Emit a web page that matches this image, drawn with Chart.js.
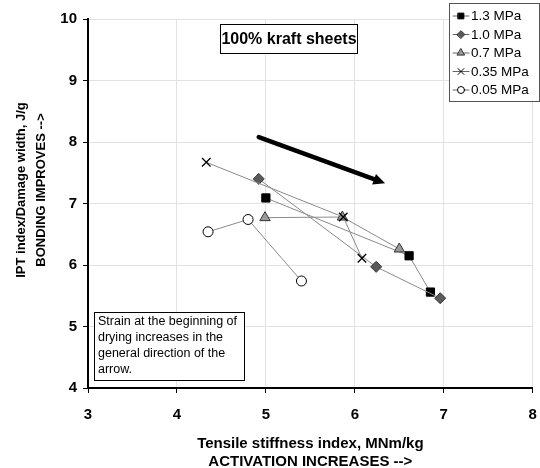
<!DOCTYPE html>
<html>
<head>
<meta charset="utf-8">
<script src="https://cdn.jsdelivr.net/npm/chart.js@4/dist/chart.umd.min.js"></script>
<style>
  html, body { margin: 0; padding: 0; background: #fff; }
  #wrap { width: 540px; height: 468px; }
</style>
</head>
<body>
<div id="wrap"><canvas id="chart"></canvas></div>
<script>
// Données (x = indice de rigidité, y = IPT / largeur d'endommagement)
const seriesLabels = ['1.3 MPa', '1.0 MPa', '0.7 MPa', '0.35 MPa', '0.05 MPa'];
const x13 = [5.00, 6.61, 6.85];
const y13 = [7.09, 6.15, 5.56];
const x10 = [4.92, 6.24, 6.96];
const y10 = [7.40, 5.97, 5.46];
const x07 = [4.99, 5.86, 6.50];
const y07 = [6.77, 6.78, 6.26];
const x035 = [4.33, 5.87, 6.08];
const y035 = [7.67, 6.78, 6.11];
const x005 = [4.35, 4.80, 5.40];
const y005 = [6.54, 6.74, 5.74];
const xTicks = [3, 4, 5, 6, 7, 8];
const yTicks = [4, 5, 6, 7, 8, 9, 10];
// flèche (en unités de données)
const arrowFrom = [4.92, 8.08];
const arrowTo = [6.34, 7.33];

const FONT = 'Arial, "Liberation Sans", sans-serif';

function pts(xs, ys) {
    return xs.map((x, i) => ({ x: x, y: ys[i] }));
}

const styles = [
    { pointStyle: 'rect', radius: 5.8, bg: '#000', border: '#000' },
    { pointStyle: 'rectRot', radius: 5.5, bg: '#5a5a5a', border: '#333' },
    { pointStyle: 'triangle', radius: 6, bg: '#999', border: '#333' },
    { pointStyle: 'crossRot', radius: 6, bg: '#000', border: '#000' },
    { pointStyle: 'circle', radius: 5, bg: '#fff', border: '#000' }
];
const rawData = [[x13, y13], [x10, y10], [x07, y07], [x035, y035], [x005, y005]];

const datasets = rawData.map((d, i) => ({
    label: seriesLabels[i],
    data: pts(d[0], d[1]),
    showLine: true,
    borderColor: '#8a8a8a',
    borderWidth: 1,
    pointStyle: styles[i].pointStyle,
    pointRadius: styles[i].radius,
    pointBackgroundColor: styles[i].bg,
    pointBorderColor: styles[i].border,
    pointBorderWidth: i === 3 ? 1.3 : 1,
    order: 5 - i
}));

// Dessin des annotations : cadres de texte, flèche, légende, titre de l'axe y
const decorations = {
    id: 'decorations',
    afterDatasetsDraw(chart) {
        const ctx = chart.ctx;
        const xs = chart.scales.x, ys = chart.scales.y;
        ctx.save();

        // flèche
        const x1 = xs.getPixelForValue(arrowFrom[0]), y1 = ys.getPixelForValue(arrowFrom[1]);
        const x2 = xs.getPixelForValue(arrowTo[0]), y2 = ys.getPixelForValue(arrowTo[1]);
        const ang = Math.atan2(y2 - y1, x2 - x1);
        const head = 13;
        ctx.strokeStyle = '#000';
        ctx.fillStyle = '#000';
        ctx.lineWidth = 4.5;
        ctx.lineCap = 'round';
        ctx.beginPath();
        ctx.moveTo(x1, y1);
        ctx.lineTo(x2 - Math.cos(ang) * head * 0.8, y2 - Math.sin(ang) * head * 0.8);
        ctx.stroke();
        ctx.beginPath();
        ctx.moveTo(x2, y2);
        ctx.lineTo(x2 - head * Math.cos(ang - 0.45), y2 - head * Math.sin(ang - 0.45));
        ctx.lineTo(x2 - head * Math.cos(ang + 0.45), y2 - head * Math.sin(ang + 0.45));
        ctx.closePath();
        ctx.fill();

        // titre encadré
        ctx.lineWidth = 1;
        ctx.strokeStyle = '#000';
        ctx.fillStyle = '#fff';
        ctx.fillRect(220.5, 24.5, 137, 29);
        ctx.strokeRect(220.5, 24.5, 137, 29);
        ctx.fillStyle = '#000';
        ctx.font = 'bold 16px ' + FONT;
        ctx.textAlign = 'center';
        ctx.textBaseline = 'middle';
        ctx.fillText('100% kraft sheets', 289, 40);

        // note encadrée
        ctx.fillStyle = '#fff';
        ctx.fillRect(94.5, 312.5, 150, 68);
        ctx.strokeRect(94.5, 312.5, 150, 68);
        ctx.fillStyle = '#000';
        ctx.font = '12.5px ' + FONT;
        ctx.textAlign = 'left';
        ['Strain at the beginning of', 'drying increases in the',
         'general direction of the', 'arrow.'].forEach((t, i) => {
            ctx.fillText(t, 98, 322 + i * 16);
        });

        // légende
        ctx.fillStyle = '#fff';
        ctx.fillRect(449.5, 3.5, 90, 98);
        ctx.strokeStyle = '#555';
        ctx.strokeRect(449.5, 3.5, 90, 98);
        ctx.font = '13.5px ' + FONT;
        chart.data.datasets.forEach((ds, i) => {
            const ly = 16 + i * 18.5;
            ctx.strokeStyle = '#666';
            ctx.lineWidth = 1;
            ctx.beginPath();
            ctx.moveTo(453, ly);
            ctx.lineTo(469, ly);
            ctx.stroke();
            ctx.fillStyle = ds.pointBackgroundColor;
            ctx.strokeStyle = ds.pointBorderColor;
            Chart.helpers.drawPoint(ctx, {
                pointStyle: ds.pointStyle,
                radius: ds.pointRadius * 0.7,
                borderWidth: 1
            }, 461, ly);
            ctx.fillStyle = '#000';
            ctx.fillText(ds.label, 471, ly + 0.5);
        });

        // titre de l'axe y (deux lignes, tourné)
        ctx.translate(0, 190);
        ctx.rotate(-Math.PI / 2);
        ctx.font = 'bold 13px ' + FONT;
        ctx.textAlign = 'center';
        ctx.fillStyle = '#000';
        ctx.fillText('IPT index/Damage width, J/g', 0, 21);
        ctx.fillText('BONDING IMPROVES -->', 0, 41);

        ctx.restore();
    }
};

new Chart(document.getElementById('chart').getContext('2d'), {
    type: 'scatter',
    data: { datasets: datasets },
    plugins: [decorations],
    options: {
        responsive: true,
        maintainAspectRatio: false,
        animation: false,
        layout: { padding: { top: 19, right: 6, left: 0, bottom: 0 } },
        plugins: {
            legend: { display: false },
            tooltip: { enabled: false }
        },
        scales: {
            x: {
                type: 'linear',
                min: 3,
                max: 8,
                afterBuildTicks: s => { s.ticks = xTicks.map(v => ({ value: v })); },
                afterFit: s => {
                    s.height = 80;
                    s.paddingLeft = 0;
                    s.paddingRight = 0;
                },
                grid: { color: '#e2e2e2', tickColor: '#000', tickLength: 5 },
                border: { color: '#000', width: 2 },
                ticks: {
                    color: '#000',
                    padding: 13,
                    font: { family: FONT, size: 15, weight: 'bold' }
                },
                title: {
                    display: true,
                    text: ['Tensile stiffness index, MNm/kg', 'ACTIVATION INCREASES -->'],
                    color: '#000',
                    font: { family: FONT, size: 15, weight: 'bold', lineHeight: 1.2 },
                    padding: { top: 0, bottom: -3 }
                }
            },
            y: {
                type: 'linear',
                min: 4,
                max: 10,
                afterBuildTicks: s => { s.ticks = yTicks.map(v => ({ value: v })); },
                afterFit: s => { s.width = 88; },
                grid: { color: '#e2e2e2', tickColor: '#000', tickLength: 5 },
                border: { color: '#000', width: 2 },
                ticks: {
                    color: '#000',
                    padding: 6,
                    font: { family: FONT, size: 15, weight: 'bold' }
                },
                title: { display: false }
            }
        }
    }
});
</script>
</body>
</html>
